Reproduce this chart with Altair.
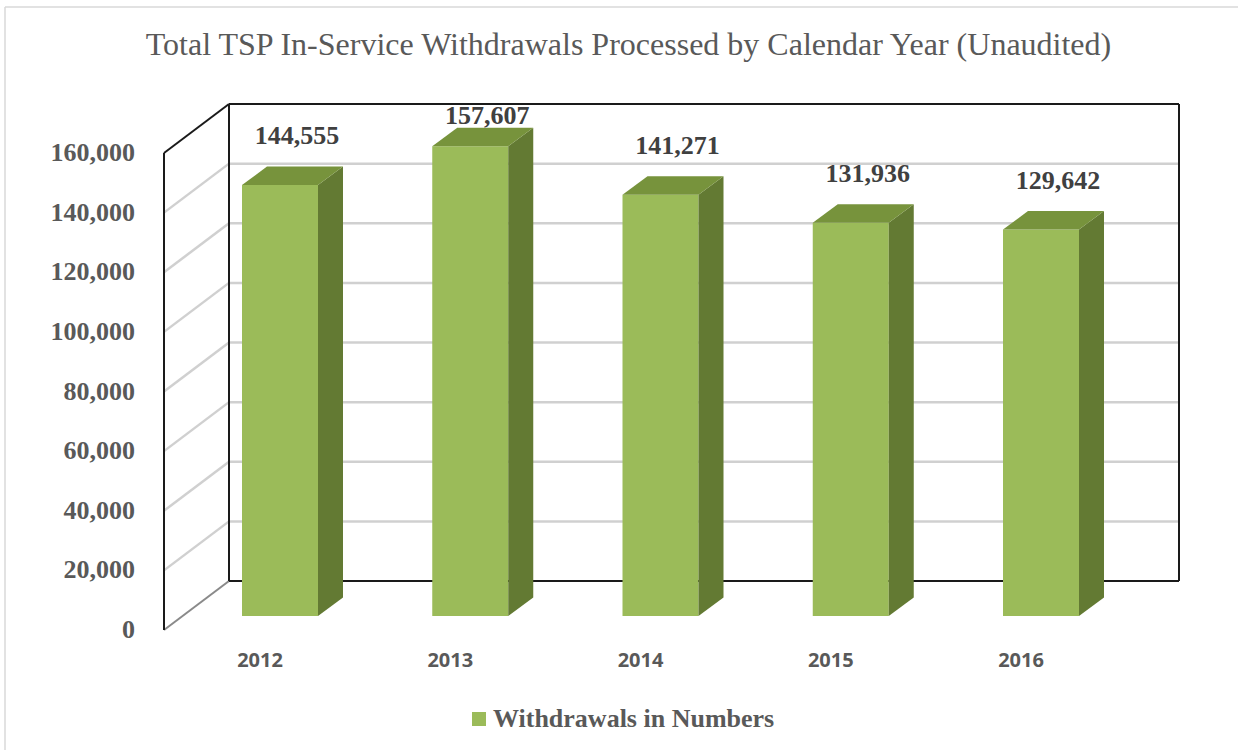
import altair as alt
import pandas as pd

# ---------------- data ----------------
years = ["2012", "2013", "2014", "2015", "2016"]
withdrawals = [144555, 157607, 141271, 131936, 129642]
y_ticks = [0, 20000, 40000, 60000, 80000, 100000, 120000, 140000, 160000]
series_name = "Withdrawals in Numbers"
title_text = "Total TSP In-Service Withdrawals Processed by Calendar Year (Unaudited)"

# ---------------- layout (pixels) ----------------
W, H = 1238, 750
PAD_L, PAD_T = 5, 7
VIEW_W, VIEW_H = W - PAD_L, H - PAD_T
FIRST_BAR_PX = 280          # centre of first bar's front face
BAR_STEP_PX = 190.25        # distance between categories
ZERO_PX = 630               # value 0 on the front edge of the left wall
PX_PER_UNIT = 477 / 160000  # vertical pixels per unit of value
WALL_FRONT_PX, WALL_BACK_PX, WALL_RIGHT_PX = 164, 229, 1179
BACK_DY = 49                # back wall raised by this many pixels
BAR_LIFT = 14               # bars stand this many pixels above the front edge
BAR_HALF = 38               # half width of the front face
DEPTH_X, DEPTH_Y = 25, 18.5 # bar depth
YEAR_LABEL_PX = 661
LABEL_ABOVE = 49
LABEL_CEIL_PX = 116

FRONT = "#9bbb59"
SIDE = "#637a33"
TOP = "#77933c"
GRID = "#d0d0d0"
EDGE = "#1a1a1a"
TEXT = "#595959"
SERIF = "Liberation Serif"


def xi(px):
    return (px - FIRST_BAR_PX) / BAR_STEP_PX


def dxu(dpx):
    return dpx / BAR_STEP_PX


def yv(px):
    return (ZERO_PX - px) / PX_PER_UNIT


def dyu(dpx):
    return dpx / PX_PER_UNIT


x_scale = alt.Scale(domain=[xi(PAD_L), xi(W)], nice=False, zero=False)
y_scale = alt.Scale(domain=[yv(H), yv(PAD_T)], nice=False, zero=False)


def X(f):
    return alt.X(f, type="quantitative", scale=x_scale, axis=None)


def Y(f):
    return alt.Y(f, type="quantitative", scale=y_scale, axis=None)


# ---------------- walls ----------------
vmin, vmax = y_ticks[0], y_ticks[-1]
bdv = dyu(BACK_DY)
fx, bx, rx = xi(WALL_FRONT_PX), xi(WALL_BACK_PX), xi(WALL_RIGHT_PX)

grid_rows = []
for v in y_ticks[1:-1]:
    grid_rows.append(dict(x=bx, x2=rx, y=v + bdv, y2=v + bdv))
    grid_rows.append(dict(x=fx, x2=bx, y=v, y2=v + bdv))
grid_df = pd.DataFrame(grid_rows)

edge_df = pd.DataFrame([
    dict(x=fx, x2=fx, y=vmin, y2=vmax),
    dict(x=fx, x2=bx, y=vmax, y2=vmax + bdv),
    dict(x=bx, x2=bx, y=vmin + bdv, y2=vmax + bdv),
    dict(x=bx, x2=rx, y=vmax + bdv, y2=vmax + bdv),
    dict(x=rx, x2=rx, y=vmin + bdv, y2=vmax + bdv),
    dict(x=bx, x2=rx, y=vmin + bdv, y2=vmin + bdv),
])
floor_df = pd.DataFrame([dict(x=fx, x2=bx, y=vmin, y2=vmin + bdv)])

grid = alt.Chart(grid_df).mark_rule(color=GRID, strokeWidth=2.5).encode(
    x=X("x"), x2="x2", y=Y("y"), y2="y2")
edges = alt.Chart(edge_df).mark_rule(color=EDGE, strokeWidth=2).encode(
    x=X("x"), x2="x2", y=Y("y"), y2="y2")
floor = alt.Chart(floor_df).mark_rule(color="#8a8a8a", strokeWidth=2).encode(
    x=X("x"), x2="x2", y=Y("y"), y2="y2")

# ---------------- bars ----------------
lift = dyu(BAR_LIFT)
ddx, ddy = dxu(DEPTH_X), dyu(DEPTH_Y)
bars_rows, side_rows, top_rows = [], [], []
for i, (yr, val) in enumerate(zip(years, withdrawals)):
    x0, x1 = i - dxu(BAR_HALF), i + dxu(BAR_HALF)
    base, top = vmin + lift, val + lift
    bars_rows.append(dict(year=yr, idx=i, value=val, x0=x0, x1=x1, base=base, top=top,
                          series=series_name,
                          lx=i + dxu(17),
                          ly=min(top + dyu(LABEL_ABOVE), yv(LABEL_CEIL_PX)),
                          label=f"{val:,}"))
    side_rows += [dict(year=yr, x=x1, lo=base, hi=top),
                  dict(year=yr, x=x1 + ddx, lo=base + ddy, hi=top + ddy)]
    top_rows += [dict(year=yr, x=x0, lo=top, hi=top),
                 dict(year=yr, x=x0 + ddx, lo=top, hi=top + ddy),
                 dict(year=yr, x=x1, lo=top, hi=top + ddy),
                 dict(year=yr, x=x1 + ddx, lo=top + ddy, hi=top + ddy)]
bars_df = pd.DataFrame(bars_rows)
side_df = pd.DataFrame(side_rows)
top_df = pd.DataFrame(top_rows)

front = alt.Chart(bars_df).mark_rect(strokeWidth=0).encode(
    x=X("x0"), x2="x1", y=Y("base"), y2="top",
    color=alt.Color("series:N", scale=alt.Scale(range=[FRONT]),
                    legend=alt.Legend(orient="none", legendX=461, legendY=699,
                                      title=None, symbolType="square", symbolSize=196,
                                      symbolStrokeWidth=0, symbolOpacity=1,
                                      labelFont=SERIF, labelFontWeight="bold",
                                      labelFontSize=26, labelColor=TEXT,
                                      labelLimit=0, labelOffset=1, padding=0)),
)
side = alt.Chart(side_df).mark_area(color=SIDE, opacity=1).encode(
    x=X("x"), y=Y("lo"), y2="hi", detail="year:N")
topf = alt.Chart(top_df).mark_area(color=TOP, opacity=1).encode(
    x=X("x"), y=Y("lo"), y2="hi", detail="year:N")

# ---------------- text ----------------
tick_df = pd.DataFrame(dict(v=y_ticks, label=[f"{t:,}" for t in y_ticks], x=fx))
ylabels = alt.Chart(tick_df).mark_text(
    align="right", baseline="middle", dx=-29, font=SERIF, fontWeight="bold",
    fontSize=26, color=TEXT).encode(x=X("x"), y=Y("v"), text="label:N")

year_df = pd.DataFrame(dict(idx=list(range(len(years))), year=years, y=yv(YEAR_LABEL_PX)))
xlabels = alt.Chart(year_df).mark_text(
    align="center", baseline="middle", dx=-20, font="Open Sans", fontWeight="bold",
    fontSize=20, color=TEXT).encode(x=X("idx"), y=Y("y"), text="year:N")

values_text = alt.Chart(bars_df).mark_text(
    align="center", baseline="middle", font=SERIF, fontWeight="bold",
    fontSize=26, color="#404040").encode(x=X("lx"), y=Y("ly"), text="label:N")

# ---------------- frame ----------------
frame_df = pd.DataFrame([dict(k="frame")])
frame_top = alt.Chart(frame_df).mark_rule(color="#d9d9d9", strokeWidth=1.5).encode(
    x=alt.value(0), x2=alt.value(VIEW_W), y=alt.value(0))
frame_left = alt.Chart(frame_df).mark_rule(color="#d9d9d9", strokeWidth=1.5).encode(
    x=alt.value(0), y=alt.value(0), y2=alt.value(VIEW_H))

chart = alt.layer(
    frame_top, frame_left, grid, floor, edges, front, side, topf,
    ylabels, xlabels, values_text,
).properties(
    width=VIEW_W, height=VIEW_H,
    autosize=alt.AutoSizeParams(type="none"),
    padding={"left": PAD_L, "top": PAD_T, "right": 0, "bottom": 0},
    title=alt.TitleParams(text=title_text, anchor="middle", frame="group",
                          offset=-48, baseline="alphabetic", dx=7, dy=33,
                          font=SERIF, fontSize=32, fontWeight="normal", color=TEXT),
    background="white",
).configure_view(stroke=None)

chart.save("out.html", embed_options={"renderer": "svg", "actions": False})
